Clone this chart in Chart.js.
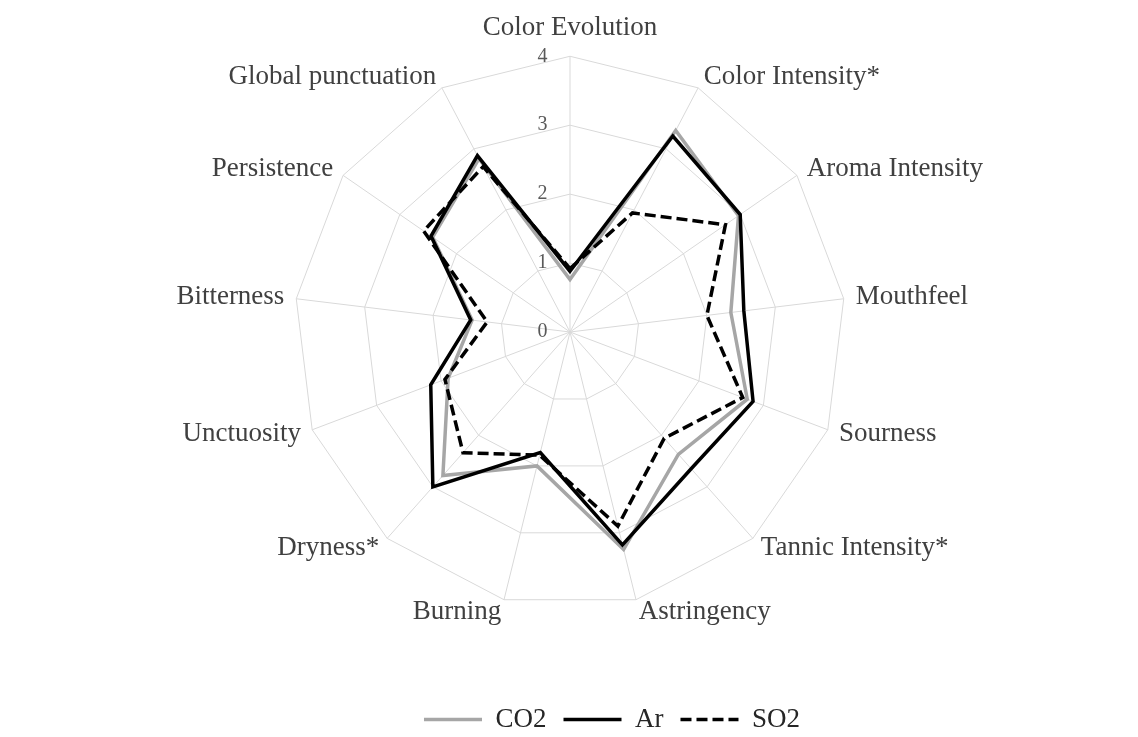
<!DOCTYPE html>
<html>
<head>
<meta charset="utf-8">
<script src="https://cdn.jsdelivr.net/npm/chart.js@4/dist/chart.umd.min.js"></script>
<style>
  html, body { margin: 0; padding: 0; background: #ffffff; }
  #wrap { width: 1138px; height: 737px; }
</style>
</head>
<body>
<div id="wrap"><canvas id="c" width="1138" height="737"></canvas></div>
<script>
const CATEGORIES = ['Color Evolution', 'Color Intensity*', 'Aroma Intensity', 'Mouthfeel', 'Sourness',
  'Tannic Intensity*', 'Astringency', 'Burning', 'Dryness*', 'Unctuosity', 'Bitterness',
  'Persistence', 'Global punctuation'];
const SERIES_NAMES = ['CO2', 'Ar', 'SO2'];
const CO2 = [0.76, 3.30, 2.97, 2.35, 2.75, 2.37, 3.25, 2.00, 2.78, 1.89, 1.43, 2.42, 2.84];
const AR  = [0.88, 3.21, 3.00, 2.54, 2.84, 2.65, 3.18, 1.80, 3.00, 2.16, 1.45, 2.45, 2.89];
const SO2 = [0.92, 1.95, 2.74, 2.00, 2.68, 2.06, 2.90, 1.84, 2.34, 1.94, 1.21, 2.58, 2.71];
const TICKS = [0, 1, 2, 3, 4];
const TICK_LABELS = ['0', '1', '2', '3', '4'];

const SERIF = "'Liberation Serif', 'Times New Roman', serif";
Chart.defaults.font.family = SERIF;
const PAD = ' '.repeat(11);

new Chart(document.getElementById('c'), {
  type: 'radar',
  data: {
    labels: CATEGORIES,
    datasets: [
      { label: SERIES_NAMES[0], data: CO2, borderColor: '#a6a6a6', borderWidth: 3.5, order: 3 },
      { label: SERIES_NAMES[1], data: AR, borderColor: '#000000', borderWidth: 3.5, order: 2 },
      { label: SERIES_NAMES[2], data: SO2, borderColor: '#000000', borderWidth: 3.5, borderDash: [11, 5], order: 1 }
    ].map(d => Object.assign({ fill: false, backgroundColor: 'rgba(0,0,0,0)', pointRadius: 0, pointHoverRadius: 0, tension: 0 }, d))
  },
  options: {
    responsive: false,
    animation: false,
    layout: { padding: { top: 16, left: 86, right: 0, bottom: -6 } },
    scales: {
      r: {
        min: -0.001,
        max: 4,
        afterBuildTicks: s => { s.ticks = TICKS.map(v => ({ value: v })); },
        grid: { color: '#d9d9d9', lineWidth: 1 },
        angleLines: { color: '#d9d9d9', lineWidth: 1 },
        ticks: {
          font: { size: 20, family: SERIF },
          color: '#595959',
          showLabelBackdrop: false,
          backdropPadding: -10,
          callback: (v, i) => TICK_LABELS[i] + PAD
        },
        pointLabels: {
          font: { size: 27, family: SERIF, lineHeight: 0.01 },
          color: '#404040',
          padding: ctx => ctx.index === 0 ? 28 : 12
        }
      }
    },
    plugins: {
      tooltip: { enabled: false },
      title: { display: true, position: 'right', text: ' ', font: { size: 10, lineHeight: 1 }, padding: 37 },
      legend: {
        position: 'bottom',
        weight: 3000,
        title: { display: true, text: ' ', font: { size: 10, lineHeight: 1 }, padding: { top: 55, bottom: 0 } },
        labels: {
          usePointStyle: true,
          pointStyle: 'line',
          pointStyleWidth: 58,
          padding: 17,
          color: '#262626',
          font: { size: 27, family: SERIF },
          generateLabels: chart => {
            const items = Chart.defaults.plugins.legend.labels.generateLabels(chart);
            items.sort((a, b) => a.datasetIndex - b.datasetIndex);
            items.forEach(it => {
              const ds = chart.data.datasets[it.datasetIndex];
              it.lineDash = ds.borderDash || [];
              it.lineWidth = ds.borderWidth;
              it.strokeStyle = ds.borderColor;
              it.fontColor = '#262626';
            });
            return items;
          }
        }
      }
    }
  }
});
</script>
</body>
</html>
